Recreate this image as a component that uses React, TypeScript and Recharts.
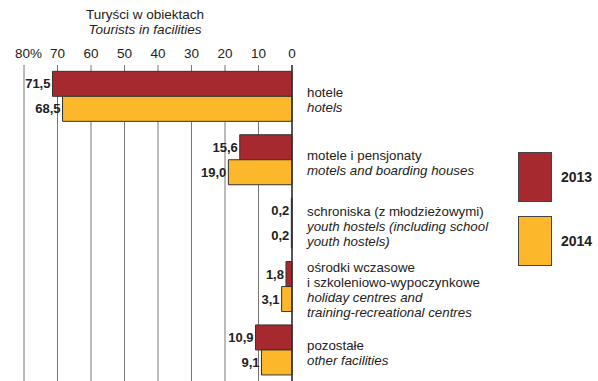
import React from 'react';
import { BarChart, Bar, XAxis, YAxis, CartesianGrid, LabelList } from 'recharts';

const categoriesPl = [
  ['hotele'],
  ['motele i pensjonaty'],
  ['schroniska (z młodzieżowymi)'],
  ['ośrodki wczasowe', 'i szkoleniowo-wypoczynkowe'],
  ['pozostałe'],
];
const categoriesEn = [
  ['hotels'],
  ['motels and boarding houses'],
  ['youth hostels (including school', 'youth hostels)'],
  ['holiday centres and', 'training-recreational centres'],
  ['other facilities'],
];
const values2013 = [71.5, 15.6, 0.2, 1.8, 10.9];
const values2014 = [68.5, 19.0, 0.2, 3.1, 9.1];
const xTicks = [0, 10, 20, 30, 40, 50, 60, 70, 80];
const seriesNames = ['2013', '2014'];

const FONT = '"Liberation Sans", Arial, sans-serif';
const RED = '#A6292F';
const YELLOW = '#FCB72A';

const data = categoriesPl.map((pl, i) => ({
  key: String(i),
  y2013: values2013[i],
  y2014: values2014[i],
}));

function fmt(v: number) {
  return v.toFixed(1).replace('.', ',');
}

function ValueLabel(props: any) {
  const { x, y, width, height, value } = props;
  const left = Math.min(x, x + width);
  return (
    <text
      x={left - 2}
      y={y + height / 2}
      dy={4.5}
      textAnchor="end"
      fontFamily={FONT}
      fontSize={13}
      fontWeight="bold"
      fill="#222"
    >
      {fmt(value)}
    </text>
  );
}

function XTick(props: any) {
  const { x, y, payload } = props;
  const isMax = payload.value === 80;
  return (
    <text
      x={isMax ? x - 9 : x}
      y={y}
      textAnchor={isMax ? 'start' : 'middle'}
      fontFamily={FONT}
      fontSize={13.5}
      fill="#222"
    >
      {isMax ? payload.value + '%' : payload.value}
    </text>
  );
}

function CategoryTick(props: any) {
  const { x, y, payload } = props;
  const i = Number(payload.value);
  const lines = [
    ...categoriesPl[i].map((t) => ({ t, it: false })),
    ...categoriesEn[i].map((t) => ({ t, it: true })),
  ];
  const lh = 15;
  const start = y - ((lines.length - 1) * lh) / 2 + 3;
  return (
    <g>
      {lines.map((l, k) => (
        <text
          key={k}
          x={x}
          y={start + k * lh}
          dy={4.5}
          textAnchor="start"
          fontFamily={FONT}
          fontSize={13.3}
          fontStyle={l.it ? 'italic' : 'normal'}
          fill="#222"
        >
          {l.t}
        </text>
      ))}
    </g>
  );
}

export default function App() {
  return (
    <div
      style={{
        position: 'absolute',
        left: 0,
        top: 0,
        width: 598,
        height: 381,
        overflow: 'hidden',
        background: '#fff',
        fontFamily: FONT,
      }}
    >
      <div
        style={{
          position: 'absolute',
          left: 45,
          top: 7,
          width: 200,
          textAlign: 'center',
          fontSize: 13.5,
          lineHeight: '15px',
          color: '#222',
        }}
      >
        <div>Turyści w obiektach</div>
        <div style={{ fontStyle: 'italic' }}>Tourists in facilities</div>
      </div>

      <BarChart
        width={598}
        height={384}
        data={data}
        layout="vertical"
        margin={{ top: 35, right: 0, bottom: 2, left: 24 }}
        barCategoryGap="10%"
        barGap={0}
      >
        <CartesianGrid horizontal={false} vertical stroke="#777" strokeWidth={1} />
        <XAxis
          type="number"
          orientation="top"
          reversed
          domain={[0, 80]}
          ticks={xTicks}
          interval={0}
          axisLine={false}
          tickLine={false}
          tickMargin={1}
          height={30}
          tick={<XTick />}
        />
        <YAxis
          type="category"
          dataKey="key"
          orientation="right"
          width={306}
          axisLine={{ stroke: '#333', strokeWidth: 1.5 }}
          tickLine={false}
          tickSize={0}
          tickMargin={15}
          interval={0}
          tick={<CategoryTick />}
        />
        <Bar dataKey="y2013" name={seriesNames[0]} fill={RED} stroke="#333" strokeWidth={1} isAnimationActive={false}>
          <LabelList dataKey="y2013" content={<ValueLabel />} />
        </Bar>
        <Bar dataKey="y2014" name={seriesNames[1]} fill={YELLOW} stroke="#333" strokeWidth={1} isAnimationActive={false}>
          <LabelList dataKey="y2014" content={<ValueLabel />} />
        </Bar>
      </BarChart>

      {seriesNames.map((name, i) => (
        <div
          key={name}
          style={{
            position: 'absolute',
            left: 518,
            top: 152 + i * 64,
            display: 'flex',
            alignItems: 'center',
          }}
        >
          <div
            style={{
              width: 34,
              height: 50,
              background: i === 0 ? RED : YELLOW,
              border: '1px solid #444',
              boxSizing: 'border-box',
            }}
          />
          <span style={{ marginLeft: 9, fontSize: 14, fontWeight: 'bold', color: '#222' }}>{name}</span>
        </div>
      ))}
    </div>
  );
}
